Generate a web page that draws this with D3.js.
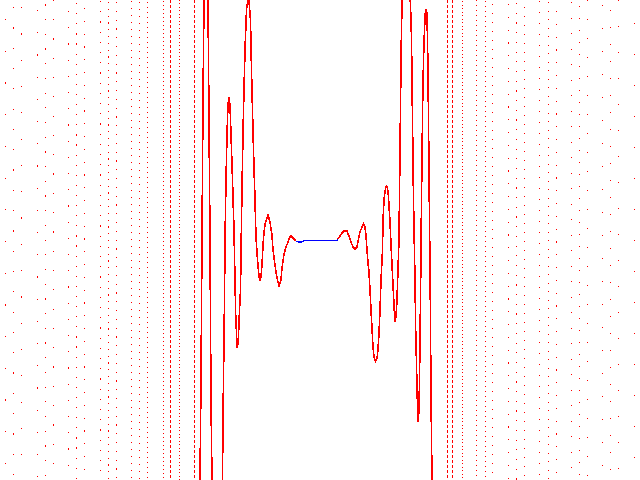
<!DOCTYPE html>
<html>
<head>
<meta charset="utf-8">
<script src="https://cdn.jsdelivr.net/npm/d3@7"></script>
<style>
  html, body { margin: 0; padding: 0; background: #ffffff; }
  svg { display: block; }
</style>
</head>
<body>
<script>
// ---- Data (arbitrary units, no axes shown) ----
// Smooth central part of the curve: x values
const curveX = [
  -1.23, -1.20, -1.19, -1.18, -1.17, -1.16, -1.14, -1.12, -1.11, -1.10, -1.09, -1.08, -1.03,
  -0.975, -0.97, -0.955, -0.95, -0.94, -0.93, -0.92, -0.91, -0.90, -0.89, -0.875, -0.86, -0.85,
  -0.843, -0.833, -0.827, -0.817, -0.807, -0.795, -0.785, -0.775, -0.765, -0.75, -0.735, -0.715,
  -0.695, -0.685, -0.675, -0.665, -0.65, -0.64, -0.625, -0.61, -0.60, -0.59, -0.58, -0.57, -0.56,
  -0.545, -0.52, -0.50, -0.48, -0.47, -0.45, -0.43, -0.41, -0.39, -0.38, -0.36, -0.34, -0.32,
  -0.305, -0.29, -0.27, -0.24, -0.22, -0.18, -0.16, 0.17, 0.18, 0.20, 0.22, 0.24, 0.27, 0.285,
  0.31, 0.33, 0.35, 0.37, 0.385, 0.40, 0.42, 0.435, 0.45, 0.46, 0.47, 0.48, 0.49, 0.50, 0.51,
  0.52, 0.53, 0.54, 0.555, 0.57, 0.58, 0.59, 0.60, 0.607, 0.615, 0.625, 0.63, 0.64, 0.65, 0.665,
  0.68, 0.69, 0.70, 0.71, 0.72, 0.73, 0.74, 0.75, 0.76, 0.77, 0.78, 0.79, 0.80, 0.807, 0.813,
  0.82, 0.86, 0.905, 0.915, 0.92, 0.925, 0.935, 0.95, 0.957, 0.965, 0.97, 0.977, 0.982, 0.99,
  0.995, 1.00, 1.005, 1.015, 1.027, 1.035, 1.045, 1.053, 1.06, 1.07, 1.075, 1.08, 1.085, 1.095,
  1.103, 1.11, 1.12, 1.14
];
// ... and the matching y values
const curveY = [
  -3.20, -2.40, -1.40, 0.00, 1.40, 2.40, 3.10, 2.40, 1.20, 0.00, -1.60, -2.40, -3.40,
  -2.40, -1.78, -0.60, 0.00, 0.60, 1.05, 1.35, 1.43, 1.35, 1.05, 0.60, 0.10, -0.40,
  -0.75, -0.98, -1.08, -1.00, -0.75, -0.50, 0.20, 0.80, 1.30, 1.90, 2.30, 2.45,
  2.20, 1.70, 1.30, 0.90, 0.40, 0.03, -0.20, -0.36, -0.41, -0.37, -0.25, -0.05, 0.08,
  0.18, 0.25, 0.18, 0.05, -0.10, -0.25, -0.38, -0.46, -0.40, -0.28, -0.14, -0.07, -0.02,
  0.025, 0.04, 0.02, -0.01, -0.02, -0.02, -0.005, -0.005, 0.01, 0.04, 0.07, 0.09, 0.09, 0.05,
  -0.02, -0.07, -0.09, -0.07, 0.01, 0.08, 0.13, 0.16, 0.13, 0.04, -0.10, -0.23, -0.32, -0.50, -0.70,
  -0.88, -1.07, -1.17, -1.21, -1.18, -1.10, -0.93, -0.70, -0.50, -0.30, -0.10, 0.20, 0.40, 0.49, 0.55,
  0.49, 0.35, 0.18, -0.05, -0.25, -0.45, -0.65, -0.82, -0.76, -0.60, -0.30, 0.00, 0.90, 1.50, 2.00,
  2.35, 3.00, 2.35, 2.02, 1.60, 1.20, 0.40, -0.40, -0.90, -1.23, -1.50, -1.70, -1.82, -1.70,
  -1.40, -1.00, -0.60, 0.40, 1.38, 1.80, 2.10, 2.27, 2.31, 2.26, 2.00, 1.70, 1.20, 0.20,
  -0.60, -1.55, -2.40, -3.20
];
// Outer region: steep branches that show up as columns of isolated samples
const branchX = [
  -3.15, -3.07, -2.99, -2.83, -2.75, -2.67, -2.52, -2.44, -2.36, -2.20, -2.125, -2.04,
  -1.89, -1.815, -1.73, -1.57, -1.50, -1.415, -1.26,
  1.265, 1.32, 1.415, 1.56, 1.65, 1.72, 1.88, 1.96, 2.04, 2.19, 2.28, 2.355,
  2.51, 2.59, 2.67, 2.82, 2.90, 2.98, 3.14
];
// vertical distance between consecutive samples in each branch
const branchStep = [
  0.317, 0.203, 0.263, 0.222, 0.147, 0.193, 0.162, 0.101, 0.128, 0.102, 0.068, 0.088,
  0.070, 0.070, 0.050, 0.040, 0.020, 0.035, 0.022,
  0.016, 0.016, 0.035, 0.050, 0.050, 0.090, 0.128, 0.097, 0.090, 0.110, 0.085, 0.128,
  0.155, 0.120, 0.190, 0.230, 0.170, 0.260, 0.310
];
// y of the topmost sample of each branch
const branchTop = [
  2.21, 2.33, 2.33, 2.30, 2.357, 2.21, 2.29, 2.37, 2.32, 2.39, 2.38, 2.38,
  2.39, 2.38, 2.38, 2.39, 2.40, 2.37, 2.40,
  2.40, 2.40, 2.39, 2.35, 2.39, 2.36, 2.36, 2.37, 2.33, 2.39, 2.38, 2.29,
  2.38, 2.34, 2.21, 2.35, 2.30, 2.40, 2.17
];

// ---- Drawing ----
const W = 640, H = 480;
const x = d3.scaleLinear().domain([-3.2, 3.2]).range([0, W]);
const y = d3.scaleLinear().domain([-2.4, 2.4]).range([H, 0]);

const svg = d3.select("body").append("svg")
  .attr("width", W).attr("height", H)
  .style("background", "#ffffff");

const pts = curveX.map((v, i) => [v, curveY[i]]);

// blue curve
svg.append("path")
  .datum(pts)
  .attr("fill", "none")
  .attr("stroke", "#0000ff")
  .attr("stroke-width", 1.2)
  .attr("shape-rendering", "crispEdges")
  .attr("d", d3.line().x(d => x(d[0])).y(d => y(d[1])));

// red sampled curve on top (absent in the flat middle)
svg.append("path")
  .datum(pts)
  .attr("fill", "none")
  .attr("stroke", "#ff0000")
  .attr("stroke-width", 1.6)
  .attr("shape-rendering", "crispEdges")
  .attr("d", d3.line()
    .defined(d => d[0] <= -0.24 || d[0] >= 0.18)
    .x(d => x(d[0])).y(d => y(d[1])));

// steep outer branches: columns of single-pixel samples
const branches = branchX.map((v, i) => ({ x: v, step: branchStep[i], top: branchTop[i] }));
svg.append("g").selectAll("line")
  .data(branches)
  .join("line")
  .attr("x1", d => Math.round(x(d.x)) + 0.5)
  .attr("x2", d => Math.round(x(d.x)) + 0.5)
  .attr("y1", y(2.4))
  .attr("y2", y(-2.4))
  .attr("stroke", "#ff0000")
  .attr("stroke-width", 1)
  .attr("shape-rendering", "crispEdges")
  .attr("stroke-dasharray", d => {
    const s = y(0) - y(d.step);
    return s < 2.6 ? "3 2" : `1.2 ${s - 1.2}`;
  })
  .attr("stroke-dashoffset", d => -(y(d.top) - y(2.4)));
</script>
</body>
</html>
